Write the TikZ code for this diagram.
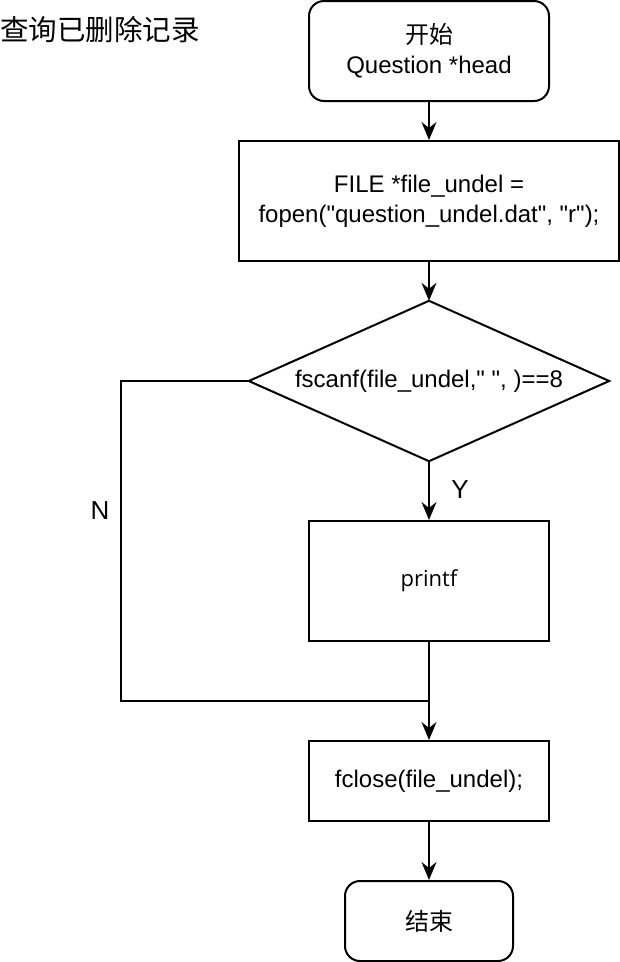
\documentclass[tikz,border=0pt]{standalone}
\usepackage{fontspec}
\setmainfont{Liberation Sans}[Ligatures=TeXOff]
\newfontfamily\cjk{Noto Sans CJK SC}
\newfontfamily\uifont{Open Sans}
\usetikzlibrary{arrows.meta}
\newcommand{\dq}{\symbol{34}}
\begin{document}
\begin{tikzpicture}[x=1pt,y=-1pt,
  every node/.style={font=\fontsize{24}{30}\selectfont, align=center, inner sep=0pt},
  rbox/.style={draw, line width=2pt, rounded corners=15pt, minimum width=#1},
  pbox/.style={draw, line width=2pt},
  conn/.style={line width=2pt},
  arr/.style={conn, -{Stealth[length=18pt,width=15pt,inset=6pt]}}
]
\useasboundingbox[fill=white] (0,0) rectangle (620,962);
\node[anchor=west, font=\cjk\fontsize{28.5}{30}\selectfont] (title) at (0,30) {查询已删除记录};
\node[rbox=240pt, minimum height=100pt] (start) at (429,51) {{\cjk 开始}\\Question *head};
\node[pbox, minimum width=380pt, minimum height=120pt] (open) at (429,201) {FILE *file\_undel =\\fopen(\dq question\_undel.dat\dq, \dq r\dq);};
\node[minimum width=360pt, minimum height=160pt] (cond) at (429,381) {fscanf(file\_undel,\dq\ \dq, )==8};
\draw[line width=2pt, line join=miter] (cond.north) -- (cond.east) -- (cond.south) -- (cond.west) -- cycle;
\node[pbox, minimum width=240pt, minimum height=120pt, font=\uifont\fontsize{22}{26}\selectfont] (pr) at (429,581) {printf};
\node[pbox, minimum width=240pt, minimum height=80pt] (fc) at (429,781) {fclose(file\_undel);};
\node[rbox=168pt, minimum height=80pt, font=\cjk\fontsize{24}{30}\selectfont] (end) at (429,921) {结束};
\node[font=\fontsize{26}{30}\selectfont] (ylab) at (460,490) {Y};
\node[font=\fontsize{26}{30}\selectfont] (nlab) at (100,511) {N};
\coordinate (j) at (429,701);
\coordinate (nc) at (121,701);
\draw[arr] (start) -- (open);
\draw[arr] (open) -- (cond);
\draw[arr] (cond) -- (pr);
\draw[conn] (pr) -- (j);
\draw[conn] (cond.west) -| (nc) -- (j);
\draw[arr] (j) -- (fc);
\draw[arr] (fc) -- (end);
\end{tikzpicture}
\end{document}
